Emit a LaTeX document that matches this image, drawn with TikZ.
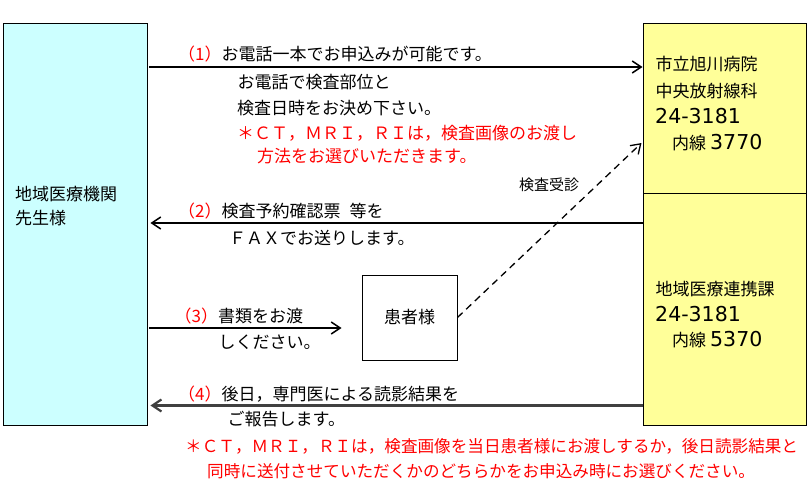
\documentclass[tikz,border=0pt]{standalone}
\usepackage{fontspec}
\setmainfont{Noto Sans CJK JP}
\newfontfamily\numfont{DejaVu Sans}
\usetikzlibrary{arrows.meta}
\definecolor{clinicfill}{RGB}{204,255,255}
\definecolor{hospfill}{RGB}{255,255,153}
\definecolor{notered}{RGB}{255,0,0}

\begin{document}
\begin{tikzpicture}[x=1pt, y=-1pt,
  box/.style={draw=black, line width=0.9pt, inner sep=0pt},
  txt/.style={anchor=base west, inner sep=0pt, font=\fontsize{17}{20}\selectfont},
  note/.style={txt, text=notered},
  num/.style={anchor=base west, inner sep=0pt, font=\numfont\fontsize{20.5}{24}\selectfont},
  flow/.style={->, line width=1.5pt},
  >={Straight Barb[length=9pt,width=12pt]}
]
\useasboundingbox (0,0) rectangle (810,503);

% ================= BOXES =================
\node[box, fill=clinicfill, minimum width=144pt, minimum height=402pt] (clinic) at (75,224) {};
\node[box, fill=hospfill, minimum width=163pt, minimum height=170pt] (hosp) at (724.5,108) {};
\node[box, fill=hospfill, minimum width=163pt, minimum height=232pt] (renkei) at (724.5,309) {};
\node[box, minimum width=95pt, minimum height=85pt,
      font=\fontsize{17}{20}\selectfont] (patient) at (409.5,317.5) {患者様};

% Box texts
\node[txt] (cname) at (15,200.5) {地域医療機関};
\node[txt] (csama) at (15,224) {先生様};

\node[txt] (hname) at (655.5,70.5) {市立旭川病院};
\node[txt] (hdept) at (655.5,97) {中央放射線科};
\node[num] (htel) at (655,123) {24-3181};
\node[txt] (hext) at (672,149.5) {内線\hspace{4pt}{\numfont\fontsize{20.5}{24}\selectfont 3770}};

\node[txt] (rname) at (655.5,295.5) {地域医療連携課};
\node[num] (rtel) at (655,321.5) {24-3181};
\node[txt] (rext) at (672,346) {内線\hspace{4pt}{\numfont\fontsize{20.5}{24}\selectfont 5370}};

% ================= ARROWS =================
\coordinate (lv1) at (0,67);
\coordinate (lv2) at (0,223);
\coordinate (lv3) at (0,328);
\coordinate (lv4) at (0,405.5);
\coordinate (vtip) at (0,142);

\draw[flow, shorten <=2pt] (clinic.east |- lv1) -- (hosp.west |- lv1);
\draw[flow, shorten >=3pt] (hosp.west |- lv2) -- (clinic.east |- lv2);
\draw[flow, shorten <=2pt, shorten >=20pt] (clinic.east |- lv3) -- (patient.west |- lv3);
\draw[flow, line width=2.2pt, black!75, shorten >=3pt] (renkei.west |- lv4) -- (clinic.east |- lv4);

% patient goes to the exam
\draw[flow, line width=1.3pt, dash pattern=on 7pt off 5pt, shorten >=1.5pt]
  (patient.east) -- (hosp.west |- vtip);
\node[txt, font=\fontsize{15}{18}\selectfont] (visit) at (519,190) {検査受診};

% ================= STEP LABELS =================
% (1)
\node[txt] (t1a) at (178,60.5) {\textcolor{notered}{（1）}お電話一本でお申込みが可能です。};
\node[txt] (t1b) at (237.5,88) {お電話で検査部位と};
\node[txt] (t1c) at (237,114) {検査日時をお決め下さい。};
\node[note] (t1d) at (237,139) {＊ＣＴ，ＭＲＩ，ＲＩは，検査画像のお渡し};
\node[note] (t1e) at (257,162) {方法をお選びいただきます。};

% (2)
\node[txt] (t2a) at (178,217) {\textcolor{notered}{（2）}検査予約確認票\hspace{9pt}等を};
\node[txt] (t2b) at (229,244) {ＦＡＸでお送りします。};

% (3)
\node[txt] (t3a) at (174.5,322) {\textcolor{notered}{（3）}書類をお渡};
\node[txt] (t3b) at (218.5,348) {しください。};

% (4)
\node[txt] (t4a) at (178,400.5) {\textcolor{notered}{（4）}後日，専門医による読影結果を};
\node[txt] (t4b) at (227.5,425.5) {ご報告します。};

% ================= FOOTNOTE =================
\node[note, font=\fontsize{16.6}{20}\selectfont] (n1) at (185,452)
  {＊ＣＴ，ＭＲＩ，ＲＩは，検査画像を当日患者様にお渡しするか，後日読影結果と};
\node[note, font=\fontsize{16.6}{20}\selectfont] (n2) at (207,477)
  {同時に送付させていただくかのどちらかをお申込み時にお選びください。};

\end{tikzpicture}
\end{document}
